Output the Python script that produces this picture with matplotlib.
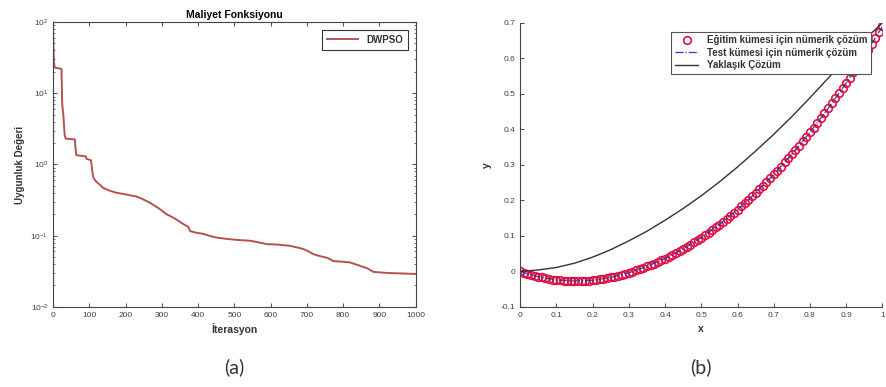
import numpy as np
import matplotlib
matplotlib.use('Agg')
import matplotlib.pyplot as plt
from matplotlib.ticker import LogLocator, NullFormatter

plt.rcParams['font.family'] = ['Liberation Sans', 'DejaVu Sans']

# best fitness per iteration (vertical drops repeat the iteration number)
iters = [0, 1, 2, 4, 23, 24, 25, 28, 30, 32, 35, 60, 62, 64, 90, 92, 104, 106, 108,
         111, 118, 125, 138, 155, 175, 200, 230, 245, 267, 290, 313, 335, 355, 368,
         372, 378, 395, 414, 430, 451, 480, 510, 543, 570, 590, 620, 654, 675, 690,
         705, 718, 740, 756, 773, 800, 820, 845, 866, 884, 920, 1000]
cost = [66, 40, 28, 23, 22, 12, 7.0, 5.0, 3.5, 2.5, 2.3, 2.25, 1.6, 1.35, 1.3, 1.2,
        1.15, 1.0, 0.8, 0.65, 0.58, 0.54, 0.47, 0.43, 0.40, 0.38, 0.355, 0.33, 0.29,
        0.245, 0.20, 0.175, 0.15, 0.137, 0.135, 0.116, 0.11, 0.106, 0.10, 0.094,
        0.09, 0.087, 0.085, 0.08, 0.076, 0.075, 0.072, 0.068, 0.065, 0.06, 0.055,
        0.051, 0.049, 0.044, 0.043, 0.042, 0.038, 0.035, 0.031, 0.030, 0.029]

# numerical solution, training set
train_x = [0.00, 0.01, 0.02, 0.03, 0.04, 0.05, 0.06, 0.07, 0.08, 0.09,
           0.10, 0.11, 0.12, 0.13, 0.14, 0.15, 0.16, 0.17, 0.18, 0.19,
           0.20, 0.21, 0.22, 0.23, 0.24, 0.25, 0.26, 0.27, 0.28, 0.29,
           0.30, 0.31, 0.32, 0.33, 0.34, 0.35, 0.36, 0.37, 0.38, 0.39,
           0.40, 0.41, 0.42, 0.43, 0.44, 0.45, 0.46, 0.47, 0.48, 0.49,
           0.50, 0.51, 0.52, 0.53, 0.54, 0.55, 0.56, 0.57, 0.58, 0.59,
           0.60, 0.61, 0.62, 0.63, 0.64, 0.65, 0.66, 0.67, 0.68, 0.69,
           0.70, 0.71, 0.72, 0.73, 0.74, 0.75, 0.76, 0.77, 0.78, 0.79,
           0.80, 0.81, 0.82, 0.83, 0.84, 0.85, 0.86, 0.87, 0.88, 0.89,
           0.90, 0.91, 0.92, 0.93, 0.94, 0.95, 0.96, 0.97, 0.98, 0.99, 1.00]
train_y = [0.000, -0.004, -0.007, -0.010, -0.013, -0.015, -0.017, -0.019, -0.021, -0.023,
           -0.024, -0.025, -0.026, -0.026, -0.027, -0.027, -0.027, -0.027, -0.026, -0.026,
           -0.025, -0.024, -0.022, -0.021, -0.019, -0.017, -0.015, -0.012, -0.010, -0.007,
           -0.004, -0.001, 0.003, 0.006, 0.010, 0.014, 0.018, 0.022, 0.027, 0.031,
           0.036, 0.041, 0.046, 0.052, 0.057, 0.063, 0.069, 0.075, 0.082, 0.088,
           0.095, 0.102, 0.109, 0.117, 0.124, 0.132, 0.140, 0.148, 0.157, 0.165,
           0.174, 0.183, 0.192, 0.202, 0.211, 0.221, 0.231, 0.241, 0.252, 0.262,
           0.273, 0.284, 0.295, 0.307, 0.318, 0.330, 0.342, 0.354, 0.367, 0.379,
           0.392, 0.405, 0.418, 0.432, 0.445, 0.459, 0.473, 0.487, 0.502, 0.516,
           0.531, 0.546, 0.561, 0.577, 0.592, 0.608, 0.624, 0.640, 0.657, 0.673, 0.690]

# numerical solution, test set
test_x = [0.00, 0.05, 0.10, 0.15, 0.20, 0.25, 0.30, 0.35, 0.40, 0.45, 0.50,
          0.55, 0.60, 0.65, 0.70, 0.75, 0.80, 0.85, 0.90, 0.95, 1.00]
test_y = [0.000, -0.015, -0.024, -0.027, -0.025, -0.017, -0.004, 0.014, 0.036, 0.063,
          0.095, 0.132, 0.174, 0.221, 0.273, 0.330, 0.392, 0.459, 0.531, 0.608, 0.690]

# approximate solution
approx_x = test_x
approx_y = [0.000, 0.004, 0.011, 0.023, 0.040, 0.061, 0.086, 0.113, 0.144, 0.177,
            0.213, 0.252, 0.294, 0.339, 0.386, 0.436, 0.489, 0.544, 0.600, 0.652, 0.700]

tick_col = '#404040'

fig = plt.figure(figsize=(8.86, 3.87), dpi=100)

# ---- (a) cost function ----
ax1 = fig.add_axes([0.060, 0.207, 0.409, 0.736])
ax1.plot(iters, cost, color='#b5524f', lw=1.4, label='DWPSO')
ax1.set_yscale('log')
ax1.set_xlim(0, 1000)
ax1.set_ylim(1e-2, 1e2)
ax1.set_xticks(range(0, 1001, 100))
ax1.yaxis.set_major_locator(LogLocator(base=10, numticks=10))
ax1.yaxis.set_minor_locator(LogLocator(base=10, subs=np.arange(2, 10), numticks=10))
ax1.yaxis.set_minor_formatter(NullFormatter())
ax1.tick_params(which='both', direction='in', top=True, right=True,
                labelsize=6, labelcolor=tick_col, color='#555555')
ax1.tick_params(which='major', length=3)
ax1.tick_params(which='minor', length=1.5)
for s in ax1.spines.values():
    s.set_color('#444444')
    s.set_linewidth(0.8)
ax1.set_title('Maliyet Fonksiyonu', fontsize=7.5, fontweight='bold', pad=3)
ax1.set_xlabel('İterasyon', fontsize=7.5, fontweight='bold', color='#333333', labelpad=3)
ax1.set_ylabel('Uygunluk Değeri', fontsize=7, fontweight='bold', color='#333333', labelpad=4)
leg1 = ax1.legend(loc='upper right', fontsize=7, fancybox=False, framealpha=1,
                  edgecolor='#333333', handlelength=3.2, borderpad=0.5,
                  borderaxespad=0.8)
for t in leg1.get_texts():
    t.set_fontweight('bold')
    t.set_color('#333333')
leg1.get_frame().set_linewidth(0.8)

# ---- (b) solutions ----
ax2 = fig.add_axes([0.587, 0.207, 0.409, 0.734])
ax2.plot(train_x, train_y, 'o', ms=5.5, mfc='none', mec='#e0103f', mew=1.2,
         ls='none', label='Eğitim kümesi için nümerik çözüm')
ax2.plot(test_x, test_y, color='#1f3fbf', ls='-.', lw=0.9,
         label='Test kümesi için nümerik çözüm')
ax2.plot(approx_x, approx_y, color='#333333', lw=1.0, label='Yaklaşık Çözüm')
ax2.set_xlim(0, 1)
ax2.set_ylim(-0.1, 0.7)
ax2.set_xticks([0, 0.1, 0.2, 0.3, 0.4, 0.5, 0.6, 0.7, 0.8, 0.9, 1])
ax2.set_xticklabels(['0', '0.1', '0.2', '0.3', '0.4', '0.5', '0.6', '0.7', '0.8', '0.9', '1'])
ax2.set_yticks([-0.1, 0, 0.1, 0.2, 0.3, 0.4, 0.5, 0.6, 0.7])
ax2.set_yticklabels(['-0.1', '0', '0.1', '0.2', '0.3', '0.4', '0.5', '0.6', '0.7'])
ax2.spines['top'].set_visible(False)
ax2.spines['right'].set_visible(False)
for s in ('left', 'bottom'):
    ax2.spines[s].set_color('#444444')
    ax2.spines[s].set_linewidth(0.8)
ax2.tick_params(direction='in', length=3, labelsize=6, labelcolor=tick_col,
                color='#555555')
ax2.set_xlabel('x', fontsize=7.5, fontweight='bold', color='#333333', labelpad=4)
ax2.set_ylabel('y', fontsize=7.5, fontweight='bold', color='#333333', labelpad=6,
               rotation=90)
leg2 = ax2.legend(loc='upper right', bbox_to_anchor=(0.968, 0.968), fontsize=7,
                  fancybox=False, framealpha=1, edgecolor='#555555',
                  handlelength=2.4, borderpad=0.35, labelspacing=0.25,
                  handletextpad=0.9, borderaxespad=0)
for t in leg2.get_texts():
    t.set_fontweight('bold')
    t.set_color('#333333')
leg2.get_frame().set_linewidth(0.8)

# panel letters
fig.text(0.264, 0.052, '(a)', ha='center', va='center', fontsize=14,
         family=['Lato', 'DejaVu Sans'], color='#333333')
fig.text(0.791, 0.052, '(b)', ha='center', va='center', fontsize=14,
         family=['Lato', 'DejaVu Sans'], color='#333333')

fig.savefig('out.png', dpi=100)
